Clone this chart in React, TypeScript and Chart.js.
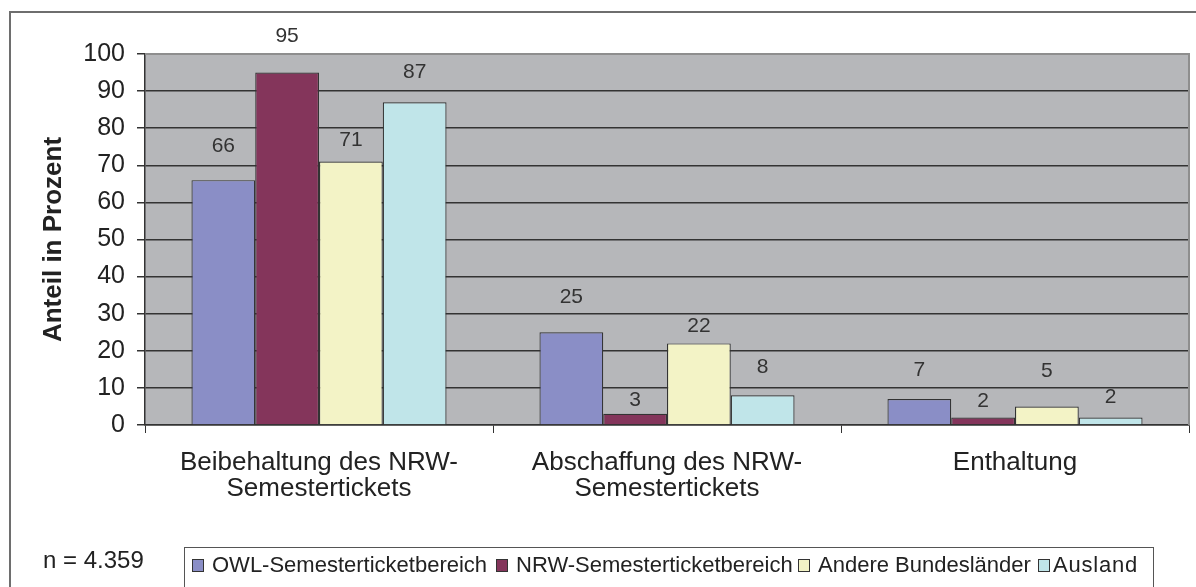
import React, { useEffect, useRef } from "react";
import { Chart, registerables } from "chart.js";

Chart.register(...registerables);

const categories: string[][] = [
  ["Beibehaltung des NRW-", "Semestertickets"],
  ["Abschaffung des NRW-", "Semestertickets"],
  ["Enthaltung"],
];

const seriesNames = [
  "OWL-Semesterticketbereich",
  "NRW-Semesterticketbereich",
  "Andere Bundesländer",
  "Ausland",
];

const owlValues = [66, 25, 7];
const nrwValues = [95, 3, 2];
const andereValues = [71, 22, 5];
const auslandValues = [87, 8, 2];

const yTicks = [0, 10, 20, 30, 40, 50, 60, 70, 80, 90, 100];

// label lift above each bar top (px), per series
const owlLift = [34, 35, 29];
const nrwLift = [36, 14, 16];
const andereLift = [21, 17, 35];
const auslandLift = [30, 28, 20];

const seriesColors = ["#8A8EC6", "#84355B", "#F3F3C6", "#C0E5E9"];
const FONT = "'Liberation Sans', Arial, sans-serif";

export default function App() {
  const canvasRef = useRef<HTMLCanvasElement | null>(null);

  useEffect(() => {
    const canvas = canvasRef.current;
    if (!canvas) return;
    const values = [owlValues, nrwValues, andereValues, auslandValues];
    const lifts = [owlLift, nrwLift, andereLift, auslandLift];

    const bgPlugin = {
      id: "plotBg",
      beforeDraw(chart: any) {
        const { ctx, chartArea } = chart;
        ctx.save();
        ctx.fillStyle = "#B6B7BA";
        ctx.fillRect(chartArea.left, chartArea.top, chartArea.right - chartArea.left, chartArea.bottom - chartArea.top);
        ctx.restore();
      },
      afterDraw(chart: any) {
        const { ctx, chartArea } = chart;
        ctx.save();
        ctx.strokeStyle = "#8E8E8E";
        ctx.lineWidth = 2;
        ctx.beginPath();
        ctx.moveTo(chartArea.left, chartArea.top);
        ctx.lineTo(chartArea.right, chartArea.top);
        ctx.lineTo(chartArea.right, chartArea.bottom);
        ctx.stroke();
        ctx.restore();
      },
    };

    const labelPlugin = {
      id: "barLabels",
      afterDatasetsDraw(chart: any) {
        const { ctx } = chart;
        ctx.save();
        ctx.font = `21px ${FONT}`;
        ctx.fillStyle = "#333333";
        ctx.textAlign = "center";
        ctx.textBaseline = "middle";
        chart.data.datasets.forEach((ds: any, di: number) => {
          const meta = chart.getDatasetMeta(di);
          meta.data.forEach((bar: any, i: number) => {
            ctx.fillText(String(ds.data[i]), bar.x, bar.y - lifts[di][i]);
          });
        });
        ctx.restore();
      },
    };

    const chart = new Chart(canvas, {
      type: "bar",
      data: {
        labels: categories,
        datasets: seriesNames.map((name, i) => ({
          label: name,
          data: values[i],
          backgroundColor: seriesColors[i],
          borderColor: "#333333",
          borderWidth: 1.2,
          categoryPercentage: 0.733,
          barPercentage: 1,
        })),
      },
      options: {
        responsive: false,
        animation: false,
        devicePixelRatio: 1,
        layout: { padding: { top: 54, left: 38, right: 7, bottom: 62 } },
        plugins: {
          legend: { display: false },
          tooltip: { enabled: false },
        },
        scales: {
          x: {
            grid: {
              display: true,
              drawOnChartArea: false,
              drawTicks: true,
              tickLength: 8,
              tickColor: "#333333",
              offset: true,
            },
            border: { display: true, color: "#333333", width: 1.5 },
            ticks: {
              color: "#222222",
              font: { family: FONT, size: 26, lineHeight: 1.0 },
              padding: 17,
              maxRotation: 0,
              autoSkip: false,
            },
            afterFit(scale: any) {
              scale.height = 100;
            },
          },
          y: {
            min: 0,
            max: 100,
            afterBuildTicks(scale: any) {
              scale.ticks = yTicks.map((v) => ({ value: v }));
            },
            grid: {
              color: (c: any) => (c.tick && c.tick.value === 100 ? "#8E8E8E" : "#333333"),
              lineWidth: 1.5,
              drawTicks: true,
              tickLength: 8,
              tickColor: "#333333",
            },
            border: { display: true, color: "#333333", width: 1.5 },
            ticks: {
              color: "#222222",
              font: { family: FONT, size: 25 },
              padding: 12,
            },
            title: {
              display: true,
              text: "Anteil in Prozent",
              color: "#222222",
              font: { family: FONT, size: 26, weight: "bold", lineHeight: 1.2 },
              padding: 0,
            },
            afterFit(scale: any) {
              scale.width = 107;
            },
          },
        },
      },
      plugins: [bgPlugin, labelPlugin],
    } as any);

    return () => chart.destroy();
  }, []);

  const legendSquares = [192, 496, 798, 1038];
  const legendTexts = [212, 516, 818, 1053];

  return (
    <div
      style={{
        position: "fixed",
        left: 0,
        top: 0,
        width: 1196,
        height: 587,
        overflow: "hidden",
        background: "#ffffff",
        fontFamily: FONT,
      }}
    >
      <div
        style={{
          position: "absolute",
          left: 9,
          top: 11,
          width: 1300,
          height: 700,
          border: "2px solid #6E6E6E",
        }}
      />
      <canvas
        ref={canvasRef}
        width={1196}
        height={587}
        style={{ position: "absolute", left: 0, top: 0, width: 1196, height: 587 }}
      />
      <div
        style={{
          position: "absolute",
          left: 43,
          top: 548,
          fontSize: 24,
          lineHeight: "24px",
          color: "#222222",
          whiteSpace: "nowrap",
        }}
      >
        n = 4.359
      </div>
      <div
        style={{
          position: "absolute",
          left: 184,
          top: 547,
          width: 968,
          height: 100,
          border: "1px solid #555555",
          background: "#ffffff",
        }}
      />
      {seriesNames.map((name, i) => (
        <React.Fragment key={name}>
          <div
            style={{
              position: "absolute",
              left: legendSquares[i],
              top: 559,
              width: 10,
              height: 11,
              background: seriesColors[i],
              border: "1px solid #333333",
            }}
          />
          <div
            style={{
              position: "absolute",
              left: legendTexts[i],
              top: 554,
              fontSize: 22,
              lineHeight: "22px",
              color: "#222222",
              whiteSpace: "nowrap",
              letterSpacing: i === 3 ? "0.8px" : "0px",
            }}
          >
            {name}
          </div>
        </React.Fragment>
      ))}
    </div>
  );
}
